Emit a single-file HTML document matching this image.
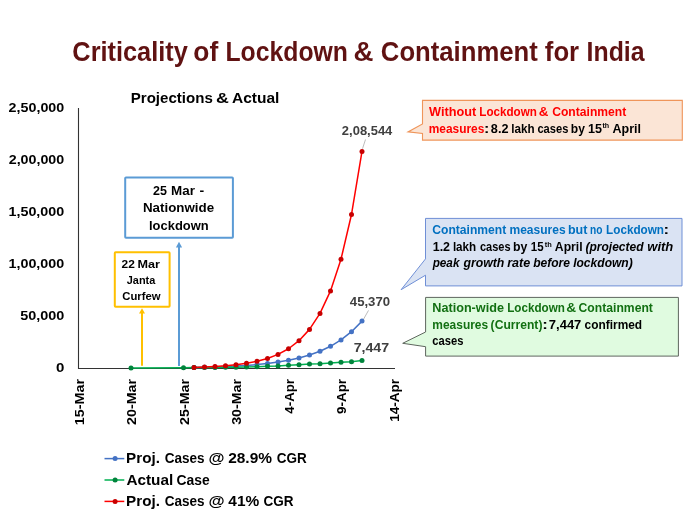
<!DOCTYPE html>
<html><head><meta charset="utf-8"><title>Criticality of Lockdown</title><style>
html,body{margin:0;padding:0;background:#fff;width:700px;height:525px;overflow:hidden;}
svg{display:block;font-family:"Liberation Sans",sans-serif;will-change:transform;}
</style></head><body>
<svg width="700" height="525" viewBox="0 0 700 525">
<path d="M78.5,108 V368.5 H395" fill="none" stroke="#333" stroke-width="1.1"/>
<rect x="114.8" y="252.3" width="54.8" height="54.4" fill="#fff" stroke="#FFC000" stroke-width="2" rx="0.8"/>
<line x1="142" y1="312" x2="142" y2="365.8" stroke="#FFC000" stroke-width="2"/>
<polygon points="142,308.3 139,313.5 145,313.5" fill="#FFC000"/>
<rect x="125.2" y="177.4" width="107.7" height="60.4" fill="#fff" stroke="#5B9BD5" stroke-width="2" rx="0.8"/>
<line x1="179" y1="245" x2="179" y2="366" stroke="#5B9BD5" stroke-width="2"/>
<polygon points="179,241.7 175.9,247.6 182.1,247.6" fill="#5B9BD5"/>
<polyline points="194.00,367.49 204.50,367.25 215.00,366.95 225.50,366.56 236.00,366.06 246.50,365.41 257.00,364.57 267.50,363.50 278.00,362.11 288.50,360.32 299.00,358.01 309.50,355.04 320.00,351.21 330.50,346.27 341.00,339.90 351.50,331.69 362.00,321.11" fill="none" stroke="#4472C4" stroke-width="1.5" stroke-linejoin="round"/>
<circle cx="194.00" cy="367.49" r="2.50" fill="#4472C4"/><circle cx="204.50" cy="367.25" r="2.50" fill="#4472C4"/><circle cx="215.00" cy="366.95" r="2.50" fill="#4472C4"/><circle cx="225.50" cy="366.56" r="2.50" fill="#4472C4"/><circle cx="236.00" cy="366.06" r="2.50" fill="#4472C4"/><circle cx="246.50" cy="365.41" r="2.50" fill="#4472C4"/><circle cx="257.00" cy="364.57" r="2.50" fill="#4472C4"/><circle cx="267.50" cy="363.50" r="2.50" fill="#4472C4"/><circle cx="278.00" cy="362.11" r="2.50" fill="#4472C4"/><circle cx="288.50" cy="360.32" r="2.50" fill="#4472C4"/><circle cx="299.00" cy="358.01" r="2.50" fill="#4472C4"/><circle cx="309.50" cy="355.04" r="2.50" fill="#4472C4"/><circle cx="320.00" cy="351.21" r="2.50" fill="#4472C4"/><circle cx="330.50" cy="346.27" r="2.50" fill="#4472C4"/><circle cx="341.00" cy="339.90" r="2.50" fill="#4472C4"/><circle cx="351.50" cy="331.69" r="2.50" fill="#4472C4"/><circle cx="362.00" cy="321.11" r="2.50" fill="#4472C4"/>
<polyline points="131.00,368.10 183.50,367.67 194.00,367.58 204.50,367.55 215.00,367.39 225.50,367.28 236.00,367.19 246.50,367.00 257.00,366.85 267.50,366.26 278.00,365.91 288.50,365.28 299.00,364.79 309.50,364.07 320.00,363.70 330.50,362.90 341.00,362.34 351.50,361.63 362.00,360.56" fill="none" stroke="#00B050" stroke-width="1.5" stroke-linejoin="round"/>
<circle cx="131.00" cy="368.10" r="2.50" fill="#00843C"/><circle cx="183.50" cy="367.67" r="2.50" fill="#00843C"/><circle cx="194.00" cy="367.58" r="2.50" fill="#00843C"/><circle cx="204.50" cy="367.55" r="2.50" fill="#00843C"/><circle cx="215.00" cy="367.39" r="2.50" fill="#00843C"/><circle cx="225.50" cy="367.28" r="2.50" fill="#00843C"/><circle cx="236.00" cy="367.19" r="2.50" fill="#00843C"/><circle cx="246.50" cy="367.00" r="2.50" fill="#00843C"/><circle cx="257.00" cy="366.85" r="2.50" fill="#00843C"/><circle cx="267.50" cy="366.26" r="2.50" fill="#00843C"/><circle cx="278.00" cy="365.91" r="2.50" fill="#00843C"/><circle cx="288.50" cy="365.28" r="2.50" fill="#00843C"/><circle cx="299.00" cy="364.79" r="2.50" fill="#00843C"/><circle cx="309.50" cy="364.07" r="2.50" fill="#00843C"/><circle cx="320.00" cy="363.70" r="2.50" fill="#00843C"/><circle cx="330.50" cy="362.90" r="2.50" fill="#00843C"/><circle cx="341.00" cy="362.34" r="2.50" fill="#00843C"/><circle cx="351.50" cy="361.63" r="2.50" fill="#00843C"/><circle cx="362.00" cy="360.56" r="2.50" fill="#00843C"/>
<polyline points="194.00,367.41 204.50,367.05 215.00,366.53 225.50,365.81 236.00,364.79 246.50,363.35 257.00,361.32 267.50,358.45 278.00,354.42 288.50,348.73 299.00,340.70 309.50,329.38 320.00,313.43 330.50,290.93 341.00,259.21 351.50,214.48 362.00,151.41" fill="none" stroke="#FF0000" stroke-width="1.5" stroke-linejoin="round"/>
<circle cx="194.00" cy="367.41" r="2.50" fill="#C80000"/><circle cx="204.50" cy="367.05" r="2.50" fill="#C80000"/><circle cx="215.00" cy="366.53" r="2.50" fill="#C80000"/><circle cx="225.50" cy="365.81" r="2.50" fill="#C80000"/><circle cx="236.00" cy="364.79" r="2.50" fill="#C80000"/><circle cx="246.50" cy="363.35" r="2.50" fill="#C80000"/><circle cx="257.00" cy="361.32" r="2.50" fill="#C80000"/><circle cx="267.50" cy="358.45" r="2.50" fill="#C80000"/><circle cx="278.00" cy="354.42" r="2.50" fill="#C80000"/><circle cx="288.50" cy="348.73" r="2.50" fill="#C80000"/><circle cx="299.00" cy="340.70" r="2.50" fill="#C80000"/><circle cx="309.50" cy="329.38" r="2.50" fill="#C80000"/><circle cx="320.00" cy="313.43" r="2.50" fill="#C80000"/><circle cx="330.50" cy="290.93" r="2.50" fill="#C80000"/><circle cx="341.00" cy="259.21" r="2.50" fill="#C80000"/><circle cx="351.50" cy="214.48" r="2.50" fill="#C80000"/><circle cx="362.00" cy="151.41" r="2.50" fill="#C80000"/>
<line x1="365.5" y1="139.5" x2="362.5" y2="148.7" stroke="#A6A6A6" stroke-width="0.75"/>
<line x1="368.5" y1="310.4" x2="363.6" y2="319.1" stroke="#A6A6A6" stroke-width="0.75"/>
<path d="M422.5,100.4 H682.3 V140.1 H422.5 V133.4 L408,131.9 L422.5,124 Z" fill="#FBE5D6" stroke="#EF955A" stroke-width="1.1"/>
<path d="M425.5,218.4 H682 V285.9 H425.5 V275.2 L401.1,289.7 L425.5,258.9 Z" fill="#DAE3F3" stroke="#6F8FD6" stroke-width="1"/>
<path d="M425.6,297.4 H678.4 V356.1 H425.6 V346.7 L402.7,343.3 L425.6,332 Z" fill="#E0FBE0" stroke="#5E665E" stroke-width="1"/>
<line x1="104.5" y1="458.6" x2="124.3" y2="458.6" stroke="#4472C4" stroke-width="1.5"/>
<circle cx="115.1" cy="458.6" r="2.5" fill="#4472C4"/>
<line x1="104.5" y1="480.0" x2="124.3" y2="480.0" stroke="#00B050" stroke-width="1.5"/>
<circle cx="115.1" cy="480.0" r="2.5" fill="#00843C"/>
<line x1="104.5" y1="501.4" x2="124.3" y2="501.4" stroke="#FF0000" stroke-width="1.5"/>
<circle cx="115.1" cy="501.4" r="2.5" fill="#C80000"/>
<text x="72.36" y="60.50" font-size="27" fill="#601212" style="font-weight:bold;font-style:normal" textLength="115.42" lengthAdjust="spacingAndGlyphs">Criticality</text>
<text x="193.32" y="60.50" font-size="27" fill="#601212" style="font-weight:bold;font-style:normal" textLength="24.86" lengthAdjust="spacingAndGlyphs">of</text>
<text x="225.50" y="60.50" font-size="27" fill="#601212" style="font-weight:bold;font-style:normal" textLength="122.41" lengthAdjust="spacingAndGlyphs">Lockdown</text>
<text x="353.62" y="60.50" font-size="27" fill="#601212" style="font-weight:bold;font-style:normal" textLength="19.95" lengthAdjust="spacingAndGlyphs">&amp;</text>
<text x="380.85" y="60.50" font-size="27" fill="#601212" style="font-weight:bold;font-style:normal" textLength="156.99" lengthAdjust="spacingAndGlyphs">Containment</text>
<text x="544.82" y="60.50" font-size="27" fill="#601212" style="font-weight:bold;font-style:normal" textLength="34.31" lengthAdjust="spacingAndGlyphs">for</text>
<text x="586.59" y="60.50" font-size="27" fill="#601212" style="font-weight:bold;font-style:normal" textLength="57.99" lengthAdjust="spacingAndGlyphs">India</text>
<text x="130.71" y="102.80" font-size="15.2" fill="#000" style="font-weight:bold;font-style:normal" textLength="82.11" lengthAdjust="spacingAndGlyphs">Projections</text>
<text x="215.92" y="102.80" font-size="15.2" fill="#000" style="font-weight:bold;font-style:normal" textLength="12.82" lengthAdjust="spacingAndGlyphs">&amp;</text>
<text x="231.99" y="102.80" font-size="15.2" fill="#000" style="font-weight:bold;font-style:normal" textLength="47.41" lengthAdjust="spacingAndGlyphs">Actual</text>
<text x="8.61" y="112.30" font-size="12.2" fill="#000" style="font-weight:bold;font-style:normal" textLength="55.62" lengthAdjust="spacingAndGlyphs">2,50,000</text>
<text x="8.72" y="164.30" font-size="12.2" fill="#000" style="font-weight:bold;font-style:normal" textLength="55.52" lengthAdjust="spacingAndGlyphs">2,00,000</text>
<text x="8.52" y="216.30" font-size="12.2" fill="#000" style="font-weight:bold;font-style:normal" textLength="55.71" lengthAdjust="spacingAndGlyphs">1,50,000</text>
<text x="8.52" y="268.30" font-size="12.2" fill="#000" style="font-weight:bold;font-style:normal" textLength="55.71" lengthAdjust="spacingAndGlyphs">1,00,000</text>
<text x="20.21" y="320.30" font-size="12.2" fill="#000" style="font-weight:bold;font-style:normal" textLength="44.12" lengthAdjust="spacingAndGlyphs">50,000</text>
<text x="55.98" y="372.30" font-size="12.2" fill="#000" style="font-weight:bold;font-style:normal" textLength="8.37" lengthAdjust="spacingAndGlyphs">0</text>
<text x="0" y="0" transform="translate(83.50,425.23) rotate(-90)" font-size="13" fill="#000" style="font-weight:bold;font-style:normal" textLength="46.22" lengthAdjust="spacingAndGlyphs">15-Mar</text>
<text x="0" y="0" transform="translate(136.00,424.95) rotate(-90)" font-size="13" fill="#000" style="font-weight:bold;font-style:normal" textLength="45.94" lengthAdjust="spacingAndGlyphs">20-Mar</text>
<text x="0" y="0" transform="translate(188.50,424.95) rotate(-90)" font-size="13" fill="#000" style="font-weight:bold;font-style:normal" textLength="45.94" lengthAdjust="spacingAndGlyphs">25-Mar</text>
<text x="0" y="0" transform="translate(241.00,424.77) rotate(-90)" font-size="13" fill="#000" style="font-weight:bold;font-style:normal" textLength="45.76" lengthAdjust="spacingAndGlyphs">30-Mar</text>
<text x="0" y="0" transform="translate(293.50,413.66) rotate(-90)" font-size="13" fill="#000" style="font-weight:bold;font-style:normal" textLength="34.66" lengthAdjust="spacingAndGlyphs">4-Apr</text>
<text x="0" y="0" transform="translate(346.00,413.91) rotate(-90)" font-size="13" fill="#000" style="font-weight:bold;font-style:normal" textLength="34.92" lengthAdjust="spacingAndGlyphs">9-Apr</text>
<text x="0" y="0" transform="translate(398.50,421.78) rotate(-90)" font-size="13" fill="#000" style="font-weight:bold;font-style:normal" textLength="42.77" lengthAdjust="spacingAndGlyphs">14-Apr</text>
<text x="153.10" y="194.90" font-size="12.4" fill="#000" style="font-weight:bold;font-style:normal" textLength="13.90" lengthAdjust="spacingAndGlyphs">25</text>
<text x="171.09" y="194.90" font-size="12.4" fill="#000" style="font-weight:bold;font-style:normal" textLength="23.83" lengthAdjust="spacingAndGlyphs">Mar</text>
<text x="199.53" y="194.90" font-size="12.4" fill="#000" style="font-weight:bold;font-style:normal" textLength="4.71" lengthAdjust="spacingAndGlyphs">-</text>
<text x="142.99" y="211.90" font-size="12.4" fill="#000" style="font-weight:bold;font-style:normal" textLength="71.18" lengthAdjust="spacingAndGlyphs">Nationwide</text>
<text x="149.02" y="229.60" font-size="12.4" fill="#000" style="font-weight:bold;font-style:normal" textLength="59.65" lengthAdjust="spacingAndGlyphs">lockdown</text>
<text x="121.63" y="267.90" font-size="11.2" fill="#000" style="font-weight:bold;font-style:normal" textLength="13.25" lengthAdjust="spacingAndGlyphs">22</text>
<text x="137.56" y="267.90" font-size="11.2" fill="#000" style="font-weight:bold;font-style:normal" textLength="22.42" lengthAdjust="spacingAndGlyphs">Mar</text>
<text x="126.76" y="284.10" font-size="11.2" fill="#000" style="font-weight:bold;font-style:normal" textLength="28.53" lengthAdjust="spacingAndGlyphs">Janta</text>
<text x="122.29" y="299.60" font-size="11.2" fill="#000" style="font-weight:bold;font-style:normal" textLength="38.33" lengthAdjust="spacingAndGlyphs">Curfew</text>
<text x="341.88" y="134.80" font-size="12.4" fill="#404040" style="font-weight:bold;font-style:normal" textLength="50.41" lengthAdjust="spacingAndGlyphs">2,08,544</text>
<text x="349.82" y="305.50" font-size="11.9" fill="#404040" style="font-weight:bold;font-style:normal" textLength="40.29" lengthAdjust="spacingAndGlyphs">45,370</text>
<text x="353.67" y="351.70" font-size="13.4" fill="#404040" style="font-weight:bold;font-style:normal" textLength="35.48" lengthAdjust="spacingAndGlyphs">7,447</text>
<text x="429.00" y="115.90" font-size="12.2" fill="#FF0000" style="font-weight:bold;font-style:normal" textLength="47.28" lengthAdjust="spacingAndGlyphs">Without</text>
<text x="479.28" y="115.90" font-size="12.2" fill="#FF0000" style="font-weight:bold;font-style:normal" textLength="57.65" lengthAdjust="spacingAndGlyphs">Lockdown</text>
<text x="538.65" y="115.90" font-size="12.2" fill="#FF0000" style="font-weight:bold;font-style:normal" textLength="9.69" lengthAdjust="spacingAndGlyphs">&amp;</text>
<text x="552.20" y="115.90" font-size="12.2" fill="#FF0000" style="font-weight:bold;font-style:normal" textLength="74.08" lengthAdjust="spacingAndGlyphs">Containment</text>
<text x="428.67" y="132.70" font-size="12.2" fill="#FF0000" style="font-weight:bold;font-style:normal" textLength="55.65" lengthAdjust="spacingAndGlyphs">measures</text>
<text x="483.96" y="132.70" font-size="12.2" fill="#000" style="font-weight:bold;font-style:normal" textLength="5.34" lengthAdjust="spacingAndGlyphs">:</text>
<text x="490.84" y="132.70" font-size="12.2" fill="#000" style="font-weight:bold;font-style:normal" textLength="17.63" lengthAdjust="spacingAndGlyphs">8.2</text>
<text x="511.18" y="132.70" font-size="12.2" fill="#000" style="font-weight:bold;font-style:normal" textLength="23.33" lengthAdjust="spacingAndGlyphs">lakh</text>
<text x="537.44" y="132.70" font-size="12.2" fill="#000" style="font-weight:bold;font-style:normal" textLength="30.91" lengthAdjust="spacingAndGlyphs">cases</text>
<text x="570.86" y="132.70" font-size="12.2" fill="#000" style="font-weight:bold;font-style:normal" textLength="14.07" lengthAdjust="spacingAndGlyphs">by</text>
<text x="587.93" y="132.70" font-size="12.2" fill="#000" style="font-weight:bold;font-style:normal" textLength="14.00" lengthAdjust="spacingAndGlyphs">15</text>
<text x="612.54" y="132.70" font-size="12.2" fill="#000" style="font-weight:bold;font-style:normal" textLength="28.54" lengthAdjust="spacingAndGlyphs">April</text>
<text x="602.50" y="128.40" font-size="7.5" fill="#000" style="font-weight:bold;font-style:normal" textLength="6.73" lengthAdjust="spacingAndGlyphs">th</text>
<text x="432.30" y="233.90" font-size="12.2" fill="#0070C0" style="font-weight:bold;font-style:normal" textLength="73.98" lengthAdjust="spacingAndGlyphs">Containment</text>
<text x="509.46" y="233.90" font-size="12.2" fill="#0070C0" style="font-weight:bold;font-style:normal" textLength="56.16" lengthAdjust="spacingAndGlyphs">measures</text>
<text x="567.93" y="233.90" font-size="12.2" fill="#0070C0" style="font-weight:bold;font-style:normal" textLength="19.48" lengthAdjust="spacingAndGlyphs">but</text>
<text x="590.07" y="233.90" font-size="12.2" fill="#0070C0" style="font-weight:bold;font-style:normal" textLength="12.45" lengthAdjust="spacingAndGlyphs">no</text>
<text x="606.08" y="233.90" font-size="12.2" fill="#0070C0" style="font-weight:bold;font-style:normal" textLength="57.96" lengthAdjust="spacingAndGlyphs">Lockdown</text>
<text x="663.49" y="233.90" font-size="12.2" fill="#000" style="font-weight:bold;font-style:normal" textLength="5.57" lengthAdjust="spacingAndGlyphs">:</text>
<text x="432.73" y="250.50" font-size="12.2" fill="#000" style="font-weight:bold;font-style:normal" textLength="17.33" lengthAdjust="spacingAndGlyphs">1.2</text>
<text x="452.88" y="250.50" font-size="12.2" fill="#000" style="font-weight:bold;font-style:normal" textLength="23.33" lengthAdjust="spacingAndGlyphs">lakh</text>
<text x="479.95" y="250.50" font-size="12.2" fill="#000" style="font-weight:bold;font-style:normal" textLength="30.60" lengthAdjust="spacingAndGlyphs">cases</text>
<text x="512.94" y="250.50" font-size="12.2" fill="#000" style="font-weight:bold;font-style:normal" textLength="14.40" lengthAdjust="spacingAndGlyphs">by</text>
<text x="530.79" y="250.50" font-size="12.2" fill="#000" style="font-weight:bold;font-style:normal" textLength="12.80" lengthAdjust="spacingAndGlyphs">15</text>
<text x="554.85" y="250.50" font-size="12.2" fill="#000" style="font-weight:bold;font-style:normal" textLength="27.82" lengthAdjust="spacingAndGlyphs">April</text>
<text x="544.80" y="247.10" font-size="7.5" fill="#000" style="font-weight:bold;font-style:normal" textLength="7.04" lengthAdjust="spacingAndGlyphs">th</text>
<text x="585.51" y="250.50" font-size="12.2" fill="#000" style="font-weight:bold;font-style:italic" textLength="58.07" lengthAdjust="spacingAndGlyphs">(projected</text>
<text x="647.27" y="250.50" font-size="12.2" fill="#000" style="font-weight:bold;font-style:italic" textLength="26.03" lengthAdjust="spacingAndGlyphs">with</text>
<text x="432.64" y="267.00" font-size="12.2" fill="#000" style="font-weight:bold;font-style:italic" textLength="26.81" lengthAdjust="spacingAndGlyphs">peak</text>
<text x="463.40" y="267.00" font-size="12.2" fill="#000" style="font-weight:bold;font-style:italic" textLength="40.98" lengthAdjust="spacingAndGlyphs">growth</text>
<text x="507.24" y="267.00" font-size="12.2" fill="#000" style="font-weight:bold;font-style:italic" textLength="23.03" lengthAdjust="spacingAndGlyphs">rate</text>
<text x="533.15" y="267.00" font-size="12.2" fill="#000" style="font-weight:bold;font-style:italic" textLength="36.90" lengthAdjust="spacingAndGlyphs">before</text>
<text x="573.15" y="267.00" font-size="12.2" fill="#000" style="font-weight:bold;font-style:italic" textLength="59.61" lengthAdjust="spacingAndGlyphs">lockdown)</text>
<text x="432.32" y="311.60" font-size="12.2" fill="#127012" style="font-weight:bold;font-style:normal" textLength="71.60" lengthAdjust="spacingAndGlyphs">Nation-wide</text>
<text x="507.18" y="311.60" font-size="12.2" fill="#127012" style="font-weight:bold;font-style:normal" textLength="57.65" lengthAdjust="spacingAndGlyphs">Lockdown</text>
<text x="566.34" y="311.60" font-size="12.2" fill="#127012" style="font-weight:bold;font-style:normal" textLength="9.91" lengthAdjust="spacingAndGlyphs">&amp;</text>
<text x="578.60" y="311.60" font-size="12.2" fill="#127012" style="font-weight:bold;font-style:normal" textLength="74.28" lengthAdjust="spacingAndGlyphs">Containment</text>
<text x="432.37" y="328.70" font-size="12.2" fill="#127012" style="font-weight:bold;font-style:normal" textLength="55.75" lengthAdjust="spacingAndGlyphs">measures</text>
<text x="490.60" y="328.70" font-size="12.2" fill="#127012" style="font-weight:bold;font-style:normal" textLength="51.83" lengthAdjust="spacingAndGlyphs">(Current)</text>
<text x="542.19" y="328.70" font-size="12.2" fill="#000" style="font-weight:bold;font-style:normal" textLength="5.57" lengthAdjust="spacingAndGlyphs">:</text>
<text x="548.87" y="328.70" font-size="12.2" fill="#000" style="font-weight:bold;font-style:normal" textLength="32.46" lengthAdjust="spacingAndGlyphs">7,447</text>
<text x="584.61" y="328.70" font-size="12.2" fill="#000" style="font-weight:bold;font-style:normal" textLength="57.54" lengthAdjust="spacingAndGlyphs">confirmed</text>
<text x="432.24" y="344.60" font-size="12.2" fill="#000" style="font-weight:bold;font-style:normal" textLength="31.12" lengthAdjust="spacingAndGlyphs">cases</text>
<text x="126.11" y="463.40" font-size="15.3" fill="#000" style="font-weight:bold;font-style:normal" textLength="33.79" lengthAdjust="spacingAndGlyphs">Proj.</text>
<text x="164.76" y="463.40" font-size="15.3" fill="#000" style="font-weight:bold;font-style:normal" textLength="39.85" lengthAdjust="spacingAndGlyphs">Cases</text>
<text x="208.60" y="463.40" font-size="15.3" fill="#000" style="font-weight:bold;font-style:normal" textLength="15.99" lengthAdjust="spacingAndGlyphs">@</text>
<text x="228.20" y="463.40" font-size="15.3" fill="#000" style="font-weight:bold;font-style:normal" textLength="43.78" lengthAdjust="spacingAndGlyphs">28.9%</text>
<text x="276.66" y="463.40" font-size="15.3" fill="#000" style="font-weight:bold;font-style:normal" textLength="29.98" lengthAdjust="spacingAndGlyphs">CGR</text>
<text x="126.40" y="484.70" font-size="15.3" fill="#000" style="font-weight:bold;font-style:normal" textLength="46.80" lengthAdjust="spacingAndGlyphs">Actual</text>
<text x="176.45" y="484.70" font-size="15.3" fill="#000" style="font-weight:bold;font-style:normal" textLength="33.18" lengthAdjust="spacingAndGlyphs">Case</text>
<text x="126.11" y="506.10" font-size="15.3" fill="#000" style="font-weight:bold;font-style:normal" textLength="33.79" lengthAdjust="spacingAndGlyphs">Proj.</text>
<text x="164.76" y="506.10" font-size="15.3" fill="#000" style="font-weight:bold;font-style:normal" textLength="39.85" lengthAdjust="spacingAndGlyphs">Cases</text>
<text x="208.49" y="506.10" font-size="15.3" fill="#000" style="font-weight:bold;font-style:normal" textLength="16.10" lengthAdjust="spacingAndGlyphs">@</text>
<text x="228.35" y="506.10" font-size="15.3" fill="#000" style="font-weight:bold;font-style:normal" textLength="30.93" lengthAdjust="spacingAndGlyphs">41%</text>
<text x="263.56" y="506.10" font-size="15.3" fill="#000" style="font-weight:bold;font-style:normal" textLength="30.08" lengthAdjust="spacingAndGlyphs">CGR</text>
</svg>
</body></html>
